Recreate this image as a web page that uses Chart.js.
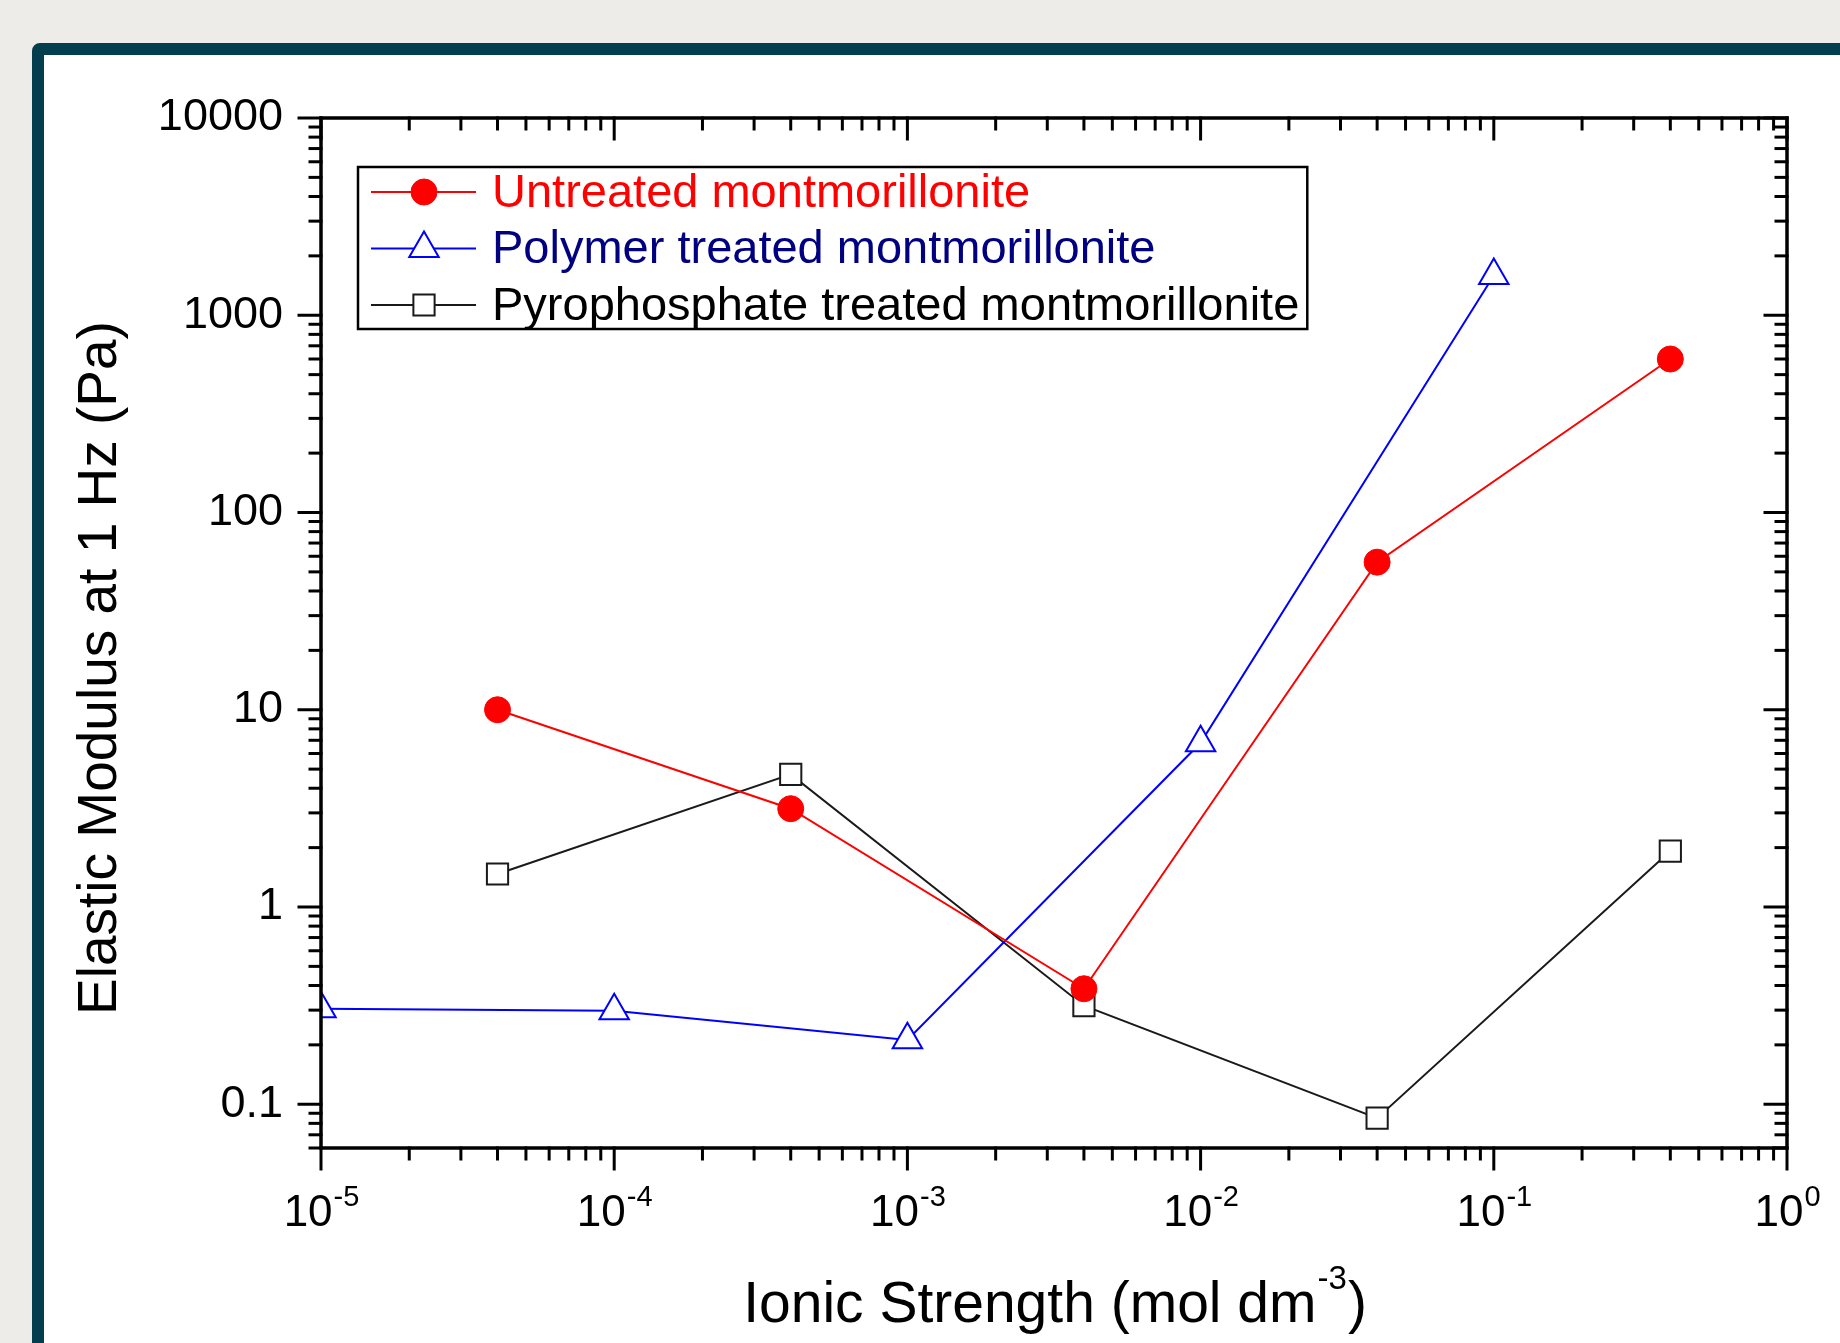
<!DOCTYPE html>
<html lang="en">
<head>
<meta charset="utf-8">
<title>Elastic modulus vs ionic strength</title>
<script src="https://cdn.jsdelivr.net/npm/chart.js@4.4.1/dist/chart.umd.min.js"></script>
<style>
    html, body { margin: 0; padding: 0; }
    body {
        width: 1840px; height: 1343px; overflow: hidden; position: relative;
        background: #edece8;
        font-family: 'Liberation Sans', Arial, sans-serif;
    }
    .frame {
        position: absolute; left: 32px; top: 43px;
        width: 1880px; height: 1400px;
        border: 12px solid #033e4e; border-radius: 8px;
        background: #fff;
    }
    #chartWrap { position: absolute; left: 0; top: 0; width: 1840px; height: 1343px; }
</style>
</head>
<body>
<div class="frame"></div>
<div id="chartWrap"><canvas id="modulusChart" width="1840" height="1343"></canvas></div>
<script>
// Datos
const seriesNames = ['Untreated montmorillonite', 'Polymer treated montmorillonite', 'Pyrophosphate treated montmorillonite'];

const untreatedX = [4e-5, 4e-4, 4e-3, 4e-2, 0.4];
const untreatedY = [10, 3.15, 0.385, 56, 600];

const polymerX = [1e-5, 1e-4, 1e-3, 1e-2, 0.1];
const polymerY = [0.305, 0.298, 0.212, 6.8, 1590];

const pyroX = [4e-5, 4e-4, 4e-3, 4e-2, 0.4];
const pyroY = [1.47, 4.7, 0.316, 0.085, 1.92];

const xTickValues = [1e-5, 1e-4, 1e-3, 1e-2, 1e-1, 1];
const xTickExponents = ['-5', '-4', '-3', '-2', '-1', '0'];
const yTickValues = [0.1, 1, 10, 100, 1000, 10000];
const yTickLabels = ['0.1', '1', '10', '100', '1000', '10000'];

const xTitle = 'Ionic Strength (mol dm';
const xTitleExp = '-3';
const xTitleEnd = ')';
const yTitle = 'Elastic Modulus at 1 Hz (Pa)';

const FONT = "'Liberation Sans', Arial, sans-serif";

function toPoints(xs, ys) {
    return xs.map((x, i) => ({ x, y: ys[i] }));
}

// ticks 1..9 x 10^n, como en Origin (sin el 1.5 que mete Chart.js)
function logTicks(min, max) {
    const ticks = [];
    for (let e = Math.floor(Math.log10(min)); e <= Math.ceil(Math.log10(max)); e++) {
        for (let m = 1; m <= 9; m++) {
            const v = parseFloat((m * Math.pow(10, e)).toPrecision(8));
            if (v >= min * 0.9999 && v <= max * 1.0001) ticks.push({ value: v, major: m === 1 });
        }
    }
    return ticks;
}

function sameLog(a, b) {
    return Math.abs(Math.log10(a) - Math.log10(b)) < 1e-6;
}

function line(ctx, x0, y0, x1, y1) {
    ctx.beginPath();
    ctx.moveTo(x0, y0);
    ctx.lineTo(x1, y1);
    ctx.stroke();
}

function drawMarker(ctx, ds, x, y) {
    ctx.save();
    ctx.fillStyle = ds.pointBackgroundColor;
    ctx.strokeStyle = ds.pointBorderColor;
    ctx.lineWidth = ds.pointBorderWidth;
    const opts = { pointStyle: ds.pointStyle, radius: ds.pointRadius, borderWidth: ds.pointBorderWidth, rotation: 0 };
    if (Chart.helpers && Chart.helpers.drawPoint) {
        Chart.helpers.drawPoint(ctx, opts, x, y);
    } else {
        ctx.beginPath();
        ctx.arc(x, y, ds.pointRadius, 0, Math.PI * 2);
        ctx.fill();
        ctx.stroke();
    }
    ctx.restore();
}

// Ejes tipo Origin: caja, ticks hacia fuera abajo/izquierda y hacia dentro arriba/derecha
const originAxes = {
    id: 'originAxes',
    afterDatasetsDraw(chart) {
        const { ctx, chartArea: a, scales: { x, y } } = chart;
        ctx.save();
        ctx.strokeStyle = '#000';
        ctx.lineCap = 'square';
        ctx.lineWidth = 3;
        x.ticks.forEach(t => {
            const px = x.getPixelForValue(t.value);
            const len = t.major ? 21 : 11;
            line(ctx, px, a.bottom, px, a.bottom + len);
            line(ctx, px, a.top, px, a.top + len);
        });
        y.ticks.forEach(t => {
            const py = y.getPixelForValue(t.value);
            const len = t.major ? 22 : 11;
            line(ctx, a.left - len, py, a.left, py);
            line(ctx, a.right - len, py, a.right, py);
        });
        ctx.lineWidth = 3.5;
        ctx.lineJoin = 'miter';
        ctx.strokeRect(a.left, a.top, a.right - a.left, a.bottom - a.top);
        ctx.restore();
    },
    afterDraw(chart) {
        const { ctx, chartArea: a, scales: { x } } = chart;
        ctx.save();
        ctx.fillStyle = '#000';
        ctx.textBaseline = 'alphabetic';
        ctx.textAlign = 'left';

        // etiquetas del eje x con exponente
        xTickValues.forEach((v, i) => {
            const px = x.getPixelForValue(v);
            ctx.font = `44px ${FONT}`;
            const wb = ctx.measureText('10').width;
            ctx.font = `29px ${FONT}`;
            const ws = ctx.measureText(xTickExponents[i]).width;
            const start = px - (wb + ws) / 2;
            ctx.font = `44px ${FONT}`;
            ctx.fillText('10', start, a.bottom + 78);
            ctx.font = `29px ${FONT}`;
            ctx.fillText(xTickExponents[i], start + wb + 1, a.bottom + 58);
        });

        // título eje x
        ctx.font = `57px ${FONT}`;
        const w1 = ctx.measureText(xTitle).width;
        const w3 = ctx.measureText(xTitleEnd).width;
        ctx.font = `33px ${FONT}`;
        const w2 = ctx.measureText(xTitleExp).width;
        let tx = (a.left + a.right) / 2 - (w1 + w2 + w3) / 2;
        const baseY = 1322;
        ctx.font = `57px ${FONT}`;
        ctx.fillText(xTitle, tx, baseY);
        ctx.font = `33px ${FONT}`;
        ctx.fillText(xTitleExp, tx + w1 + 1, baseY - 33);
        ctx.font = `57px ${FONT}`;
        ctx.fillText(xTitleEnd, tx + w1 + w2 + 2, baseY);

        // título eje y
        ctx.save();
        ctx.translate(116, 668);
        ctx.rotate(-Math.PI / 2);
        ctx.font = `55px ${FONT}`;
        ctx.textAlign = 'center';
        ctx.fillText(yTitle, 0, 0);
        ctx.restore();

        // leyenda con caja
        const lg = { left: 358, top: 167, rowH: 56.5, lineX0: 371, lineX1: 476, markX: 424, textX: 492 };
        ctx.font = `47px ${FONT}`;
        const datasets = chart.data.datasets;
        const maxW = Math.max(...datasets.map(d => ctx.measureText(d.label).width));
        const boxH = 25 + (datasets.length - 1) * lg.rowH + 24;
        ctx.strokeStyle = '#000';
        ctx.lineWidth = 2.5;
        ctx.strokeRect(lg.left, lg.top, lg.textX + maxW + 8 - lg.left, boxH);
        datasets.forEach((ds, i) => {
            const cy = lg.top + 25 + i * lg.rowH;
            ctx.strokeStyle = ds.borderColor;
            ctx.lineWidth = ds.borderWidth;
            line(ctx, lg.lineX0, cy, lg.lineX1, cy);
            drawMarker(ctx, ds, lg.markX, cy);
            ctx.fillStyle = ds.legendColor;
            ctx.textBaseline = 'middle';
            ctx.font = `47px ${FONT}`;
            ctx.fillText(ds.label, lg.textX, cy + 2);
        });
        ctx.restore();
    }
};

const ctx = document.getElementById('modulusChart').getContext('2d');
const modulusChart = new Chart(ctx, {
    type: 'scatter',
    data: {
        datasets: [{
            label: seriesNames[0],
            data: toPoints(untreatedX, untreatedY),
            showLine: true,
            borderColor: '#ff0000',
            backgroundColor: '#ff0000',
            borderWidth: 2,
            pointStyle: 'circle',
            pointRadius: 13,
            pointBackgroundColor: '#ff0000',
            pointBorderColor: '#ff0000',
            pointBorderWidth: 1,
            legendColor: '#ff0000',
            clip: 0
        }, {
            label: seriesNames[1],
            data: toPoints(polymerX, polymerY),
            showLine: true,
            borderColor: '#0000ff',
            backgroundColor: '#ffffff',
            borderWidth: 2,
            pointStyle: 'triangle',
            pointRadius: 17,
            pointBackgroundColor: '#ffffff',
            pointBorderColor: '#0000ff',
            pointBorderWidth: 2,
            legendColor: '#000080',
            clip: 0
        }, {
            label: seriesNames[2],
            data: toPoints(pyroX, pyroY),
            showLine: true,
            borderColor: '#1a1a1a',
            backgroundColor: '#ffffff',
            borderWidth: 2,
            pointStyle: 'rect',
            pointRadius: 15,
            pointBackgroundColor: '#ffffff',
            pointBorderColor: '#1a1a1a',
            pointBorderWidth: 2,
            legendColor: '#000000',
            clip: 0
        }]
    },
    options: {
        responsive: false,
        animation: false,
        devicePixelRatio: 1,
        events: [],
        layout: { padding: { top: 118, right: 53, left: 0, bottom: 0 } },
        plugins: {
            legend: { display: false },
            tooltip: { enabled: false }
        },
        elements: { line: { tension: 0 } },
        scales: {
            x: {
                type: 'logarithmic',
                position: 'bottom',
                min: 1e-5,
                max: 1,
                grid: { display: false, drawTicks: false },
                border: { display: false },
                ticks: { display: false, autoSkip: false },
                title: { display: false },
                afterBuildTicks: s => { s.ticks = logTicks(s.min, s.max); },
                afterFit: s => { s.height = 195; }
            },
            y: {
                type: 'logarithmic',
                position: 'left',
                min: 0.06,
                max: 10000,
                grid: { display: false, drawTicks: false },
                border: { display: false },
                ticks: {
                    autoSkip: false,
                    padding: 38,
                    color: '#000',
                    font: { family: FONT, size: 45 },
                    callback: (value) => {
                        const j = yTickValues.findIndex(v => sameLog(v, value));
                        return j >= 0 ? yTickLabels[j] : '';
                    }
                },
                title: { display: false },
                afterBuildTicks: s => { s.ticks = logTicks(s.min, s.max); },
                afterFit: s => { s.width = 321; }
            }
        }
    },
    plugins: [originAxes]
});
</script>
</body>
</html>
